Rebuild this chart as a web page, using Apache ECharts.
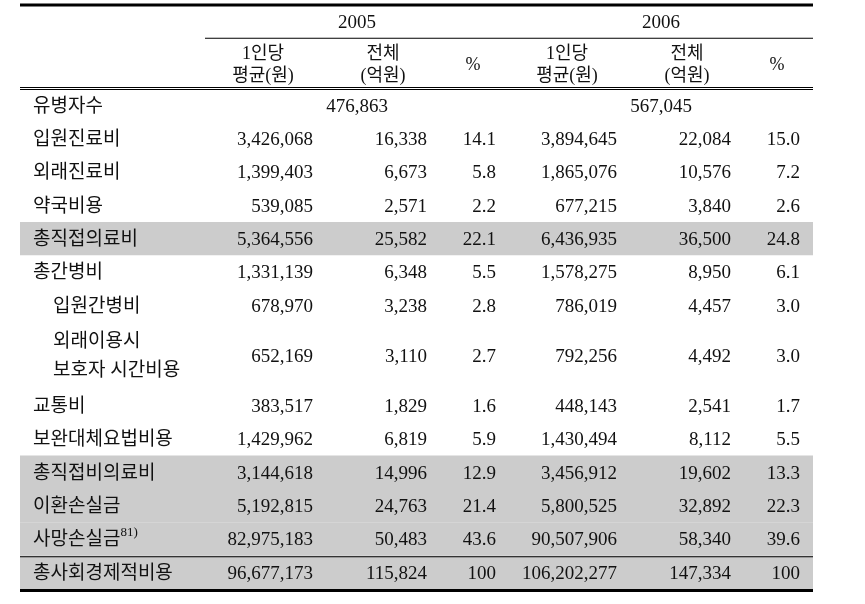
<!DOCTYPE html>
<html>
<head>
<meta charset="utf-8">
<script src="https://cdn.jsdelivr.net/npm/echarts@6/dist/echarts.min.js"></script>
<style>
  html, body { margin: 0; padding: 0; background: #fff; }
  #chart { width: 865px; height: 604px; }
</style>
</head>
<body>
<div id="chart"></div>
<script>
// ---- data ----
const years = ["2005", "2006"];
const colHeaders = ["1인당\n평균(원)", "전체\n(억원)", "%"];
const rowLabels = [
  "유병자수", "입원진료비", "외래진료비", "약국비용", "총직접의료비",
  "총간병비", "입원간병비", "외래이용시\n보호자 시간비용", "교통비", "보완대체요법비용",
  "총직접비의료비", "이환손실금", "사망손실금{sup|81)}", "총사회경제적비용"
];
const patients = [476863, 567045];
// rows 1..13 (row 0 = 유병자수 uses the merged patients value)
const perCapita2005 = [3426068, 1399403, 539085, 5364556, 1331139, 678970, 652169, 383517, 1429962, 3144618, 5192815, 82975183, 96677173];
const total2005 = [16338, 6673, 2571, 25582, 6348, 3238, 3110, 1829, 6819, 14996, 24763, 50483, 115824];
const pct2005 = ["14.1", "5.8", "2.2", "22.1", "5.5", "2.8", "2.7", "1.6", "5.9", "12.9", "21.4", "43.6", "100"];
const perCapita2006 = [3894645, 1865076, 677215, 6436935, 1578275, 786019, 792256, 448143, 1430494, 3456912, 5800525, 90507906, 106202277];
const total2006 = [22084, 10576, 3840, 36500, 8950, 4457, 4492, 2541, 8112, 19602, 32892, 58340, 147334];
const pct2006 = ["15.0", "7.2", "2.6", "24.8", "6.1", "3.0", "3.0", "1.7", "5.5", "13.3", "22.3", "39.6", "100"];
const shadedRows = [4, 10, 11, 12, 13];
const indentedRows = [6, 7];

// ---- layout (axis units: x in px from table left, y in row units) ----
const tableWidth = 793;
const groupStart = [185, 489];
const groupWidth = 304;
const numRight = [108, 222, 291];
const headCenter = [58, 178, 268];
const headerSpans = [1, 1.5];
const rowSpans = [1, 1, 1, 1, 1, 1, 1, 2, 1, 1, 1, 1, 1, 1];

const headTop = headerSpans.reduce((a, b) => a + b, 0);
const rowTop = [];
let acc = headTop;
rowSpans.forEach((s) => { rowTop.push(acc); acc += s; });
const tableBottom = acc;
const rowMid = (i) => rowTop[i] + rowSpans[i] / 2;

const fmt = (v) => v.toLocaleString("en-US");
const FONT = "'Liberation Serif', 'Noto Sans CJK KR', serif";

// text cells
const cells = [];
years.forEach((y, g) => {
  cells.push({ x: groupStart[g] + groupWidth / 2, y: headerSpans[0] / 2, text: y, align: "center" });
  colHeaders.forEach((h, c) => {
    cells.push({ x: groupStart[g] + headCenter[c], y: headerSpans[0] + headerSpans[1] / 2, text: h, align: "center", size: 18, lh: 22 });
  });
  cells.push({ x: groupStart[g] + groupWidth / 2, y: rowMid(0), text: fmt(patients[g]), align: "center" });
});
rowLabels.forEach((l, i) => {
  cells.push({ x: indentedRows.includes(i) ? 33 : 13, y: rowMid(i), text: l, align: "left", size: 19, lh: 29 });
});
const cols = [
  [perCapita2005.map(fmt), total2005.map(fmt), pct2005],
  [perCapita2006.map(fmt), total2006.map(fmt), pct2006]
];
cols.forEach((grp, g) => {
  grp.forEach((vals, c) => {
    vals.forEach((v, k) => {
      cells.push({ x: groupStart[g] + numRight[c], y: rowMid(k + 1), text: v, align: "right" });
    });
  });
});

// frame pieces: shaded bands and rules
const frame = [];
shadedRows.forEach((r) => frame.push({ kind: "band", x0: 0, x1: tableWidth, y0: rowTop[r], y1: rowTop[r] + rowSpans[r] }));
frame.push({ kind: "rule", x0: 0, x1: tableWidth, y: 0, w: 3, off: 0 });
frame.push({ kind: "rule", x0: groupStart[0], x1: tableWidth, y: headerSpans[0], w: 1, off: 0 });
frame.push({ kind: "rule", x0: 0, x1: tableWidth, y: headTop, w: 1, off: -1 });
frame.push({ kind: "rule", x0: 0, x1: tableWidth, y: headTop, w: 1, off: 1 });
frame.push({ kind: "rule", x0: 0, x1: tableWidth, y: rowTop[13], w: 1, off: 1 });
frame.push({ kind: "rule", x0: 0, x1: tableWidth, y: tableBottom, w: 3, off: 1.5 });

const chart = echarts.init(document.getElementById("chart"));
chart.setOption({
  animation: false,
  grid: { left: 20, right: 865 - 20 - tableWidth, top: 5, bottom: 604 - 5 - 584 },
  xAxis: { type: "value", min: 0, max: tableWidth, show: false },
  yAxis: { type: "value", min: 0, max: tableBottom, inverse: true, show: false },
  series: [
    {
      type: "custom",
      silent: true,
      data: frame.map((f) => [f.x0, f.y0 !== undefined ? f.y0 : f.y]),
      renderItem: (params, api) => {
        const f = frame[params.dataIndex];
        if (f.kind === "band") {
          const a = api.coord([f.x0, f.y0]);
          const b = api.coord([f.x1, f.y1]);
          return { type: "rect", shape: { x: a[0], y: a[1], width: b[0] - a[0], height: b[1] - a[1] }, style: { fill: "#cccccc" } };
        }
        const a = api.coord([f.x0, f.y]);
        const b = api.coord([f.x1, f.y]);
        return { type: "rect", shape: { x: a[0], y: a[1] + f.off - f.w / 2, width: b[0] - a[0], height: f.w }, style: { fill: "#000" } };
      }
    },
    {
      type: "custom",
      silent: true,
      data: cells.map((c) => [c.x, c.y]),
      renderItem: (params, api) => {
        const c = cells[params.dataIndex];
        const p = api.coord([c.x, c.y]);
        return {
          type: "text",
          x: p[0],
          y: p[1] + 1.5,
          style: {
            text: c.text,
            align: c.align,
            verticalAlign: "middle",
            fontSize: c.size || 19,
            fontFamily: FONT,
            lineHeight: c.lh || 22,
            fill: "#111",
            rich: {
              sup: { fontSize: 13, fontFamily: FONT, fill: "#111", verticalAlign: "top", lineHeight: 22, padding: [0, 0, 4, 0] }
            }
          }
        };
      }
    }
  ]
});
</script>
</body>
</html>
